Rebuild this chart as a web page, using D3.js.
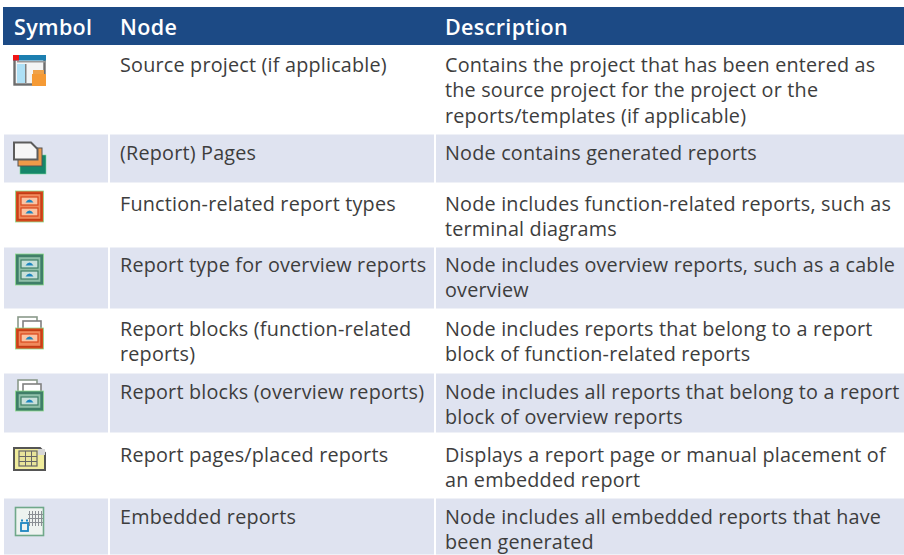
<!DOCTYPE html>
<html>
<head>
<meta charset="utf-8">
<script src="https://cdn.jsdelivr.net/npm/d3@7"></script>
<style>
    html, body { margin: 0; background: #fff; }
    text { font-family: "Open Sans", sans-serif; }
</style>
</head>
<body>
<div id="table"></div>
<script>
const headers = ['Symbol', 'Node', 'Description'];

const symbols = ['window', 'pages', 'drawerRed', 'drawerGreen', 'openRed', 'openGreen', 'grid', 'embedded'];

const nodes = [
    ['Source project (if applicable)'],
    ['(Report) Pages'],
    ['Function-related report types'],
    ['Report type for overview reports'],
    ['Report blocks (function-related', 'reports)'],
    ['Report blocks (overview reports)'],
    ['Report pages/placed reports'],
    ['Embedded reports']
];

const descriptions = [
    ['Contains the project that has been entered as', 'the source project for the project or the', 'reports/templates (if applicable)'],
    ['Node contains generated reports'],
    ['Node includes function-related reports, such as', 'terminal diagrams'],
    ['Node includes overview reports, such as a cable', 'overview'],
    ['Node includes reports that belong to a report', 'block of function-related reports'],
    ['Node includes all reports that belong to a report', 'block of overview reports'],
    ['Displays a report page or manual placement of', 'an embedded report'],
    ['Node includes all embedded reports that have', 'been generated']
];

const width = 904;
const height = 555;
const rowEdges = [45, 134, 183, 247, 309, 373, 433, 498, 555];
const firstBaselines = [72, 160, 211, 272, 336, 399, 462, 524];
const lineHeight = 25.4;
const fontSize = 19.8;

const svg = d3.select('#table')
    .append('svg')
    .attr('width', width)
    .attr('height', height)
    .style('display', 'block');

const defs = svg.append('defs');
defs.append('filter')
    .attr('id', 'soft')
    .attr('x', '-10%').attr('y', '-10%').attr('width', '120%').attr('height', '120%')
    .append('feGaussianBlur')
    .attr('stdDeviation', 0.5);

// header band
svg.append('rect')
    .attr('x', 3).attr('y', 7)
    .attr('width', width - 3).attr('height', 38)
    .attr('fill', '#1c4a85');

const headerX = [14, 120, 445];
svg.selectAll('text.head')
    .data(headers)
    .join('text')
    .attr('class', 'head')
    .attr('x', (d, i) => headerX[i])
    .attr('y', 35)
    .attr('font-size', 21.5)
    .attr('font-weight', 600)
    .attr('letter-spacing', 0.35)
    .attr('fill', '#fff')
    .text(d => d);

// shaded rows, three cells split by white gaps
const cellX = [[4, 108], [110, 434], [436, width]];
const rows = d3.range(nodes.length);

rows.filter(i => i % 2 === 1).forEach(i => {
    svg.append('g')
        .selectAll('rect')
        .data(cellX)
        .join('rect')
        .attr('x', d => d[0])
        .attr('y', rowEdges[i] + 0.5)
        .attr('width', d => d[1] - d[0])
        .attr('height', rowEdges[i + 1] - rowEdges[i] - 1)
        .attr('fill', '#dfe3f0');
});

const drawLines = (lines, x, i) => {
    svg.append('g')
        .selectAll('text')
        .data(lines)
        .join('text')
        .attr('x', x)
        .attr('y', (d, k) => firstBaselines[i] + k * lineHeight)
        .attr('font-size', fontSize)
        .attr('letter-spacing', 0.2)
        .attr('fill', '#3d3d3d')
        .text(d => d);
};

rows.forEach(i => {
    drawLines(nodes[i], 120, i);
    drawLines(descriptions[i], 445, i);
});

// icons
const box = (g, x, y, w, h, fill, stroke, sw = 1.6) => g.append('rect')
    .attr('x', x).attr('y', y)
    .attr('width', w).attr('height', h)
    .attr('fill', fill)
    .attr('stroke', stroke || 'none')
    .attr('stroke-width', sw);

const drawer = (g, y, h, outer, face) => {
    box(g, 15.5, y, 28, h, outer, '#8edc8e', 0.8);
    box(g, 18, y + 2.5, 23, h - 5, face, outer === '#d9481c' ? '#c23c14' : '#3f7f68', 1.4);
};

const slot = (g, y, face, edge) => {
    box(g, 21, y, 17, 8, face, edge, 1.2);
    g.append('path')
        .attr('d', `M25.5,${y + 5.5}Q29.5,${y - 0.5} 33.5,${y + 5.5}Z`)
        .attr('fill', '#1f86c0');
};

const iconDraw = {
    window: g => {
        box(g, 14.5, 57, 30, 27.5, '#f4f4f4', '#6d6d6d', 2.4);
        box(g, 17, 64, 8, 19, '#aee0f6');
        box(g, 13, 55, 33, 5.5, '#1b7fb0');
        box(g, 13, 55, 6, 5.5, '#f01818');
        box(g, 17, 61, 28, 1.5, '#9a9a9a');
        box(g, 25, 64, 1.5, 19, '#808080');
        box(g, 32, 74, 14, 12, '#f59a35');
        box(g, 33, 70, 11, 4, '#f0a24a');
    },
    pages: g => {
        box(g, 20, 155, 26, 19, '#12866a', '#7fd99a', 0.6);
        box(g, 18, 148, 24, 18, '#ee9a4a', '#555', 1);
        g.append('path')
            .attr('d', 'M14,142.5H31L37.5,149V159.5H14Z')
            .attr('fill', '#f6f6f6')
            .attr('stroke', '#5c5c5c')
            .attr('stroke-width', 2);
    },
    drawerRed: g => {
        drawer(g, 191, 31, '#d9481c', '#f08a5c');
        slot(g, 197, '#fbc4a4', '#d9481c');
        slot(g, 208, '#fbc4a4', '#d9481c');
    },
    drawerGreen: g => {
        drawer(g, 254, 31, '#3f7f68', '#8fbfa8');
        slot(g, 260, '#c8e0da', '#3f7f68');
        slot(g, 271, '#c8e0da', '#3f7f68');
    },
    openRed: g => {
        box(g, 18, 317, 19, 14, '#fff', '#8a9a8a', 1.6);
        box(g, 23, 321, 18, 9, '#fff', '#808080', 1.6);
        drawer(g, 328, 21, '#d9481c', '#f08a5c');
        slot(g, 334, '#fbc4a4', '#d9481c');
    },
    openGreen: g => {
        box(g, 18, 380, 19, 14, '#fff', '#8a9a8a', 1.6);
        box(g, 23, 384, 18, 9, '#fff', '#808080', 1.6);
        drawer(g, 391, 20, '#3f7f68', '#8fbfa8');
        slot(g, 397, '#c8e0da', '#3f7f68');
    },
    grid: g => {
        g.append('path')
            .attr('d', 'M14,448H40L45,453V470H14Z')
            .attr('fill', '#f0ec9c')
            .attr('stroke', '#555')
            .attr('stroke-width', 2);
        box(g, 19, 451, 18, 15, '#e8e49a', '#666', 1.2);
        [25, 31].forEach(x => box(g, x, 451, 1, 15, '#666'));
        [456, 461].forEach(y => box(g, 19, y, 18, 1, '#666'));
        box(g, 38, 449, 7, 6, '#d8d8d8');
    },
    embedded: g => {
        box(g, 15.5, 507.5, 28, 28, '#eef3f0', '#6fa88a', 1.6);
        [29, 32, 35, 38, 41].forEach(x => box(g, x, 511, 1, 15, '#8a8f94'));
        [514, 518, 522].forEach(y => box(g, 28, y, 15, 1, '#8a8f94'));
        box(g, 21, 523, 7, 8, 'none', '#1f86c0', 1.8);
        box(g, 21, 519.5, 2, 2, '#1f86c0');
        box(g, 26, 519.5, 2, 2, '#1f86c0');
    }
};

symbols.forEach(s => {
    const g = svg.append('g').attr('filter', 'url(#soft)');
    iconDraw[s](g);
});
</script>
</body>
</html>
